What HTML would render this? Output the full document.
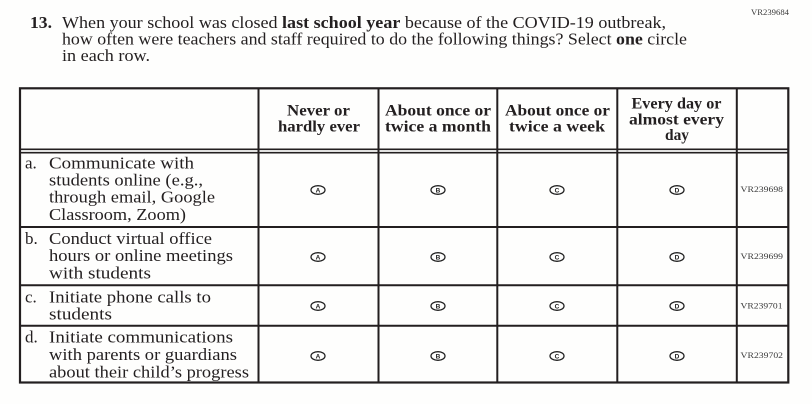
<!DOCTYPE html>
<html>
<head>
<meta charset="utf-8">
<style>
  html,body{margin:0;padding:0;background:#fefefd;}
  svg{display:block;}
  text{font-family:"Liberation Serif",serif;fill:#231f20;}
  .t{font-size:17px;}
  .h{font-size:16px;font-weight:bold;}
  .r{font-size:17px;}
  .vr{font-size:8.5px;fill:#3a3a3a;}
  .c{font-family:"Liberation Sans",sans-serif;font-size:6.5px;font-weight:bold;fill:#222;}
</style>
</head>
<body>
<svg width="812" height="404" viewBox="0 0 812 404" xmlns="http://www.w3.org/2000/svg">
  <rect x="0" y="0" width="812" height="404" fill="#fefefd"/>

  <!-- Title -->
  <text class="vr" x="751" y="15" textLength="38" lengthAdjust="spacingAndGlyphs">VR239684</text>
  <text class="t" x="30" y="28" font-weight="bold" textLength="22" lengthAdjust="spacingAndGlyphs">13.</text>
  <text class="t" x="62" y="28" textLength="604" lengthAdjust="spacingAndGlyphs">When your school was closed <tspan font-weight="bold">last school year</tspan> because of the COVID-19 outbreak,</text>
  <text class="t" x="62" y="44.5" textLength="625" lengthAdjust="spacingAndGlyphs">how often were teachers and staff required to do the following things? Select <tspan font-weight="bold">one</tspan> circle</text>
  <text class="t" x="62" y="61" textLength="88" lengthAdjust="spacingAndGlyphs">in each row.</text>

  <!-- Table lines -->
  <g stroke="#231f20" fill="none">
    <rect x="20" y="88.3" width="768.3" height="294.2" stroke-width="2.2"/>
    <line x1="258.5" y1="88" x2="258.5" y2="383" stroke-width="2"/>
    <line x1="378.5" y1="88" x2="378.5" y2="383" stroke-width="2"/>
    <line x1="497.3" y1="88" x2="497.3" y2="383" stroke-width="2"/>
    <line x1="617.3" y1="88" x2="617.3" y2="383" stroke-width="2"/>
    <line x1="736.8" y1="88" x2="736.8" y2="383" stroke-width="2"/>
    <line x1="20" y1="149.3" x2="789" y2="149.3" stroke-width="1.6"/>
    <line x1="20" y1="152.7" x2="789" y2="152.7" stroke-width="1.6"/>
    <line x1="20" y1="227" x2="789" y2="227" stroke-width="2"/>
    <line x1="20" y1="285.3" x2="789" y2="285.3" stroke-width="2"/>
    <line x1="20" y1="325.7" x2="789" y2="325.7" stroke-width="2"/>
  </g>

  <!-- Header -->
  <text class="h" x="287" y="115.5" textLength="63" lengthAdjust="spacingAndGlyphs">Never or</text>
  <text class="h" x="278" y="131.5" textLength="82" lengthAdjust="spacingAndGlyphs">hardly ever</text>
  <text class="h" x="385" y="115.5" textLength="106" lengthAdjust="spacingAndGlyphs">About once or</text>
  <text class="h" x="385" y="131.5" textLength="106" lengthAdjust="spacingAndGlyphs">twice a month</text>
  <text class="h" x="505" y="115.5" textLength="105" lengthAdjust="spacingAndGlyphs">About once or</text>
  <text class="h" x="509" y="131.5" textLength="96" lengthAdjust="spacingAndGlyphs">twice a week</text>
  <text class="h" x="631.5" y="108.3" textLength="90" lengthAdjust="spacingAndGlyphs">Every day or</text>
  <text class="h" x="629" y="124.3" textLength="95" lengthAdjust="spacingAndGlyphs">almost every</text>
  <text class="h" x="665" y="140" textLength="24" lengthAdjust="spacingAndGlyphs">day</text>

  <!-- Row a -->
  <text class="r" x="25" y="168.3">a.</text>
  <text class="r" x="49" y="168.3" textLength="145" lengthAdjust="spacingAndGlyphs">Communicate with</text>
  <text class="r" x="49" y="185.5" textLength="154" lengthAdjust="spacingAndGlyphs">students online (e.g.,</text>
  <text class="r" x="49" y="202.7" textLength="166" lengthAdjust="spacingAndGlyphs">through email, Google</text>
  <text class="r" x="49" y="220" textLength="137" lengthAdjust="spacingAndGlyphs">Classroom, Zoom)</text>

  <!-- Row b -->
  <text class="r" x="25" y="244">b.</text>
  <text class="r" x="49" y="244" textLength="163" lengthAdjust="spacingAndGlyphs">Conduct virtual office</text>
  <text class="r" x="49" y="261" textLength="184" lengthAdjust="spacingAndGlyphs">hours or online meetings</text>
  <text class="r" x="49" y="278.3" textLength="102" lengthAdjust="spacingAndGlyphs">with students</text>

  <!-- Row c -->
  <text class="r" x="25" y="302.3">c.</text>
  <text class="r" x="49" y="302.3" textLength="162" lengthAdjust="spacingAndGlyphs">Initiate phone calls to</text>
  <text class="r" x="49" y="319.3" textLength="63" lengthAdjust="spacingAndGlyphs">students</text>

  <!-- Row d -->
  <text class="r" x="25" y="342.7">d.</text>
  <text class="r" x="49" y="342.7" textLength="184" lengthAdjust="spacingAndGlyphs">Initiate communications</text>
  <text class="r" x="49" y="360" textLength="188" lengthAdjust="spacingAndGlyphs">with parents or guardians</text>
  <text class="r" x="49" y="377.7" textLength="200" lengthAdjust="spacingAndGlyphs">about their child’s progress</text>

  <!-- Bubbles -->
  <g stroke="#222" stroke-width="1.3" fill="none">
    <ellipse cx="318" cy="190" rx="7" ry="4.3"/>
    <ellipse cx="438" cy="190" rx="7" ry="4.3"/>
    <ellipse cx="557" cy="190" rx="7" ry="4.3"/>
    <ellipse cx="677" cy="190" rx="7" ry="4.3"/>
    <ellipse cx="318" cy="257" rx="7" ry="4.3"/>
    <ellipse cx="438" cy="257" rx="7" ry="4.3"/>
    <ellipse cx="557" cy="257" rx="7" ry="4.3"/>
    <ellipse cx="677" cy="257" rx="7" ry="4.3"/>
    <ellipse cx="318" cy="306" rx="7" ry="4.3"/>
    <ellipse cx="438" cy="306" rx="7" ry="4.3"/>
    <ellipse cx="557" cy="306" rx="7" ry="4.3"/>
    <ellipse cx="677" cy="306" rx="7" ry="4.3"/>
    <ellipse cx="318" cy="356" rx="7" ry="4.3"/>
    <ellipse cx="438" cy="356" rx="7" ry="4.3"/>
    <ellipse cx="557" cy="356" rx="7" ry="4.3"/>
    <ellipse cx="677" cy="356" rx="7" ry="4.3"/>
  </g>
  <g text-anchor="middle">
    <text class="c" x="318" y="192.4">A</text>
    <text class="c" x="438" y="192.4">B</text>
    <text class="c" x="557" y="192.4">C</text>
    <text class="c" x="677" y="192.4">D</text>
    <text class="c" x="318" y="259.4">A</text>
    <text class="c" x="438" y="259.4">B</text>
    <text class="c" x="557" y="259.4">C</text>
    <text class="c" x="677" y="259.4">D</text>
    <text class="c" x="318" y="308.4">A</text>
    <text class="c" x="438" y="308.4">B</text>
    <text class="c" x="557" y="308.4">C</text>
    <text class="c" x="677" y="308.4">D</text>
    <text class="c" x="318" y="358.4">A</text>
    <text class="c" x="438" y="358.4">B</text>
    <text class="c" x="557" y="358.4">C</text>
    <text class="c" x="677" y="358.4">D</text>
  </g>

  <!-- VR codes -->
  <text class="vr" x="740.5" y="192" textLength="42.5" lengthAdjust="spacingAndGlyphs">VR239698</text>
  <text class="vr" x="740.5" y="259" textLength="42.5" lengthAdjust="spacingAndGlyphs">VR239699</text>
  <text class="vr" x="740.5" y="308.5" textLength="42" lengthAdjust="spacingAndGlyphs">VR239701</text>
  <text class="vr" x="740.5" y="358" textLength="42.5" lengthAdjust="spacingAndGlyphs">VR239702</text>
</svg>
</body>
</html>
